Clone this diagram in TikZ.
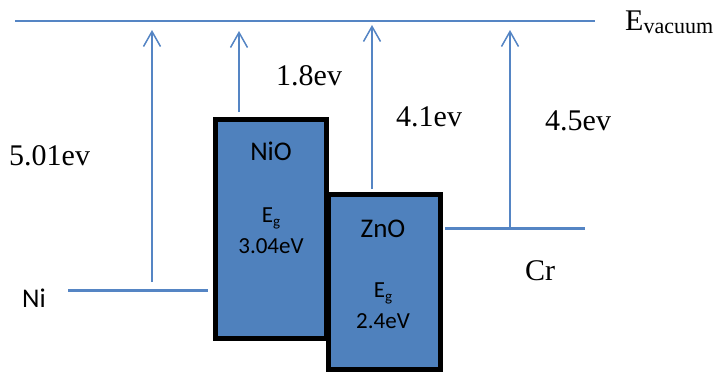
\documentclass[tikz,border=0pt]{standalone}
\usepackage{fontspec}
\usetikzlibrary{arrows.meta}
\newfontfamily\tnr{Liberation Serif}
\newfontfamily\calib{Carlito}
\definecolor{lineblue}{HTML}{5585C4}
\definecolor{boxblue}{HTML}{4F81BD}
\tikzset{
  level/.style={draw=lineblue, line width=3pt},
  vac/.style={draw=lineblue, line width=2pt},
  up/.style={draw=lineblue, line width=1.5pt, -{Straight Barb[length=15pt,width=17pt,line width=1.5pt]}},
  band/.style={draw=black, fill=boxblue, line width=5pt, inner sep=0pt, minimum width=111pt},
  tlabel/.style={inner sep=0pt, anchor=base west, font=\tnr\fontsize{30}{30}\selectfont},
  clabel/.style={inner sep=0pt, anchor=base, font=\calib\fontsize{27}{27}\selectfont},
  glabel/.style={inner sep=0pt, anchor=base, font=\calib\fontsize{23}{23}\selectfont},
}
\newcommand{\Eg}{E\raisebox{-4pt}{\fontsize{15}{15}\selectfont g}}
\begin{document}
\begin{tikzpicture}[x=1pt,y=-1pt]
\useasboundingbox (0,0) rectangle (713,373);
% vacuum level
\coordinate (v1) at (15,21);
\coordinate (v2) at (595,21);
\draw[vac] (v1) -- (v2);
\node[inner sep=0pt, anchor=base west, font=\tnr\fontsize{30}{30}\selectfont] (evac) at (625,30) {E\raisebox{-3pt}{\fontsize{22}{22}\selectfont vacuum}};
% bands
\node[band, minimum height=219pt] (nio) at (271,229) {};
\node[band, minimum width=112pt, minimum height=175pt] (zno) at (384.5,282) {};
\node[clabel] (niot) at (271,160) {NiO};
\node[glabel] (nioeg) at (271,222) {\Eg};
\node[glabel] (niov) at (271,253) {3.04eV};
\node[clabel] (znot) at (383,237) {ZnO};
\node[glabel] (znoeg) at (383,297) {\Eg};
\node[glabel] (znov) at (383,328) {2.4eV};
% metal levels
\coordinate (ni1) at (68,290);
\coordinate (ni2) at (208,290);
\draw[level] (ni1) -- (ni2);
\coordinate (cr1) at (445,228);
\coordinate (cr2) at (585,228);
\draw[level] (cr1) -- (cr2);
\node[inner sep=0pt, anchor=base west, font=\calib\fontsize{27}{27}\selectfont] (nit) at (22,307) {Ni};
\node[tlabel] (crt) at (525,280) {Cr};
% arrows
\coordinate (a1b) at (152,282);
\coordinate (a1t) at (152,30);
\coordinate (a2b) at (239,112);
\coordinate (a2t) at (239,31);
\coordinate (a3b) at (372,189);
\coordinate (a3t) at (372,25);
\coordinate (a4b) at (510,229);
\coordinate (a4t) at (510,30);
\draw[up] (a1b) -- (a1t);
\draw[up] (a2b) -- (a2t);
\draw[up] (a3b) -- (a3t);
\draw[up] (a4b) -- (a4t);
% values
\node[tlabel] (l1) at (9,165) {5.01ev};
\node[tlabel] (l2) at (276,85) {1.8ev};
\node[tlabel] (l3) at (396,126) {4.1ev};
\node[tlabel] (l4) at (545,130) {4.5ev};
\end{tikzpicture}
\end{document}
